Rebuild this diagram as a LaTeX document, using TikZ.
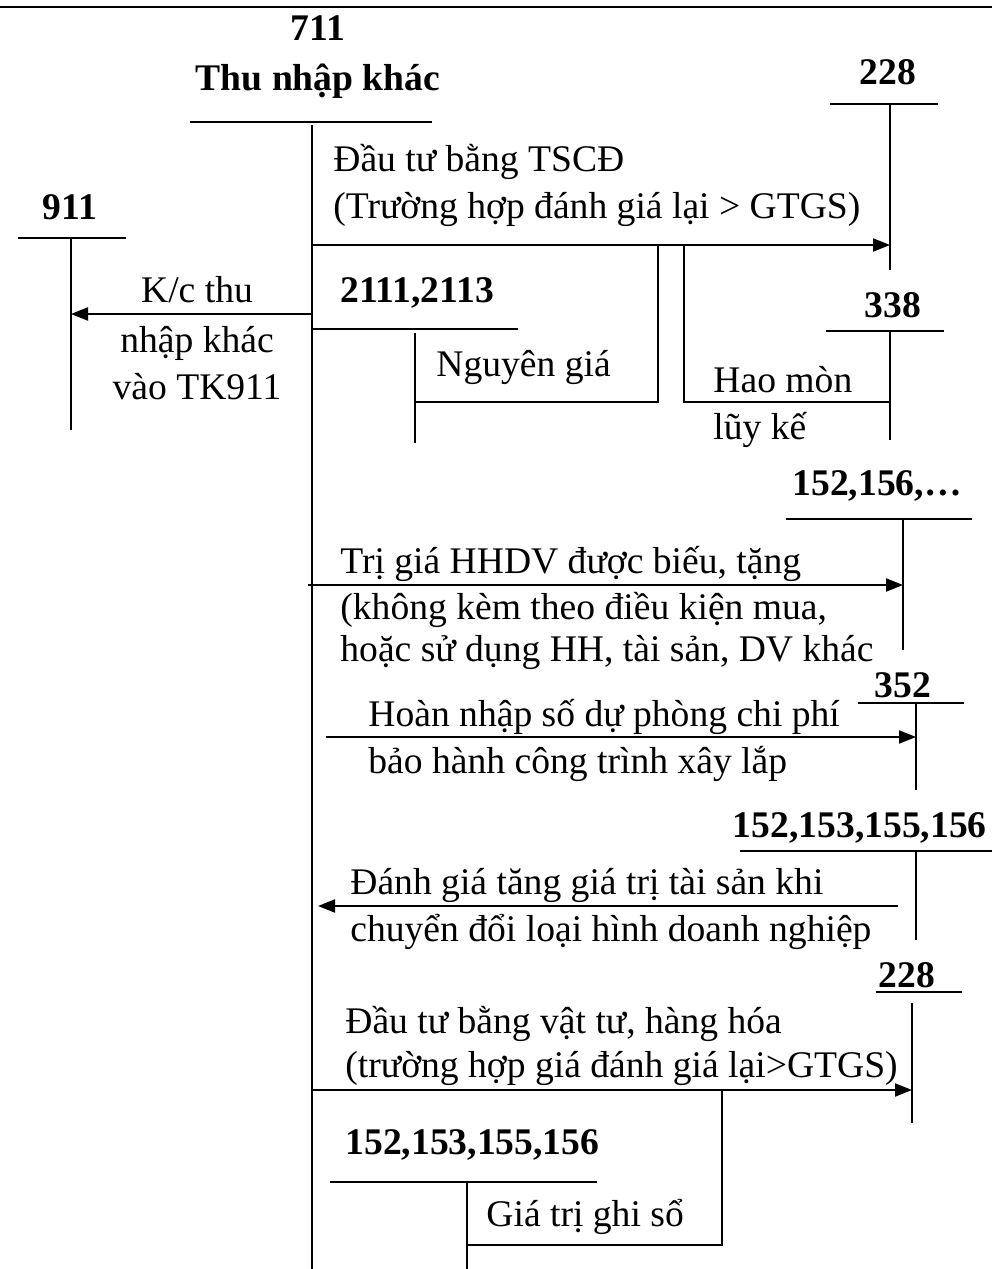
\documentclass[tikz,border=0pt]{standalone}
\usepackage{fontspec}
\setmainfont{Liberation Serif}
\usetikzlibrary{arrows.meta}
\begin{document}
\begin{tikzpicture}[x=0.5pt,y=-0.5pt,
  ln/.style={line width=1pt},
  hl/.style={line width=1.2pt},
  arr/.style={line width=1pt,-{Triangle[length=8.5pt,width=6.5pt]}},
  lbl/.style={inner sep=0pt,font=\fontsize{18.8}{23.5}\selectfont},
  bl/.style={inner sep=0pt,font=\fontsize{18.8}{23.5}\selectfont\bfseries}]
\useasboundingbox (0,0) rectangle (992,1269);
% top rule
\coordinate (topL) at (0,7); \coordinate (topR) at (992,7);
\draw[hl] (topL) -- (topR);
% 711
\node[bl,anchor=base] (n711) at (318,40) {711};
\node[bl,anchor=base] (n711b) at (318,90) {Thu nhập khác};
\coordinate (a711L) at (190,122); \coordinate (a711R) at (432,122);
\coordinate (a711T) at (312,125); \coordinate (a711B) at (312,1269);
\draw[hl] (a711L) -- (a711R);
\draw[ln] (a711T) -- (a711B);
% 228 top
\node[bl,anchor=base] (n228) at (888,84) {228};
\coordinate (c228L) at (830,104); \coordinate (c228R) at (938,104);
\coordinate (c228T) at (890,104); \coordinate (c228B) at (890,270);
\draw[hl] (c228L) -- (c228R);
\draw[ln] (c228T) -- (c228B);
\node[lbl,anchor=base west] (t1a) at (333,171) {Đầu tư bằng TSCĐ};
\node[lbl,anchor=base west] (t1b) at (333,218) {(Trường hợp đánh giá lại > GTGS)};
\coordinate (s1) at (312,245); \coordinate (e1) at (890,245);
\draw[arr] (s1) -- (e1);
\coordinate (b1a) at (658,245); \coordinate (b1b) at (658,402); \coordinate (b1c) at (415,402);
\draw[ln] (b1a) -- (b1b) -- (b1c);
\coordinate (b2a) at (684,245); \coordinate (b2b) at (684,402); \coordinate (b2c) at (890,402);
\draw[ln] (b2a) -- (b2b) -- (b2c);
% 911
\node[bl,anchor=base] (n911) at (70,219) {911};
\coordinate (c911L) at (18,238); \coordinate (c911R) at (126,238);
\coordinate (c911T) at (71,238); \coordinate (c911B) at (71,430);
\draw[hl] (c911L) -- (c911R);
\draw[ln] (c911T) -- (c911B);
\coordinate (s2) at (312,314); \coordinate (e2) at (71,314);
\draw[arr] (s2) -- (e2);
\node[lbl,anchor=base] (k1) at (197,302) {K/c thu};
\node[lbl,anchor=base] (k2) at (197,352) {nhập khác};
\node[lbl,anchor=base] (k3) at (197,399) {vào TK911};
% 2111,2113
\node[bl,anchor=base west] (n2111) at (340,302) {2111,2113};
\coordinate (c2111L) at (312,329); \coordinate (c2111R) at (518,329);
\coordinate (c2111T) at (415,333); \coordinate (c2111B) at (415,443);
\draw[ln] (c2111L) -- (c2111R);
\draw[ln] (c2111T) -- (c2111B);
\node[lbl,anchor=base west] (ng) at (436,376) {Nguyên giá};
% 338
\node[bl,anchor=base] (n338) at (893,317) {338};
\coordinate (c338L) at (826,331); \coordinate (c338R) at (944,331);
\coordinate (c338T) at (890,331); \coordinate (c338B) at (890,440);
\draw[hl] (c338L) -- (c338R);
\draw[ln] (c338T) -- (c338B);
\node[lbl,anchor=base west] (hm1) at (713,392) {Hao mòn};
\node[lbl,anchor=base west] (hm2) at (713,439) {lũy kế};
% 152,156,...
\node[bl,anchor=base east] (n152a) at (962,495) {152,156,…};
\coordinate (c152L) at (786,519); \coordinate (c152R) at (972,519);
\coordinate (c152T) at (903,519); \coordinate (c152B) at (903,650);
\draw[hl] (c152L) -- (c152R);
\draw[ln] (c152T) -- (c152B);
\coordinate (s3) at (308,585); \coordinate (e3) at (903,585);
\draw[arr] (s3) -- (e3);
\node[lbl,anchor=base west] (t3a) at (340,573) {Trị giá HHDV được biếu, tặng};
\node[lbl,anchor=base west] (t3b) at (340,619) {(không kèm theo điều kiện mua,};
\node[lbl,anchor=base west] (t3c) at (340,661) {hoặc sử dụng HH, tài sản, DV khác};
% 352
\node[bl,anchor=base] (n352) at (903,697) {352};
\coordinate (c352L) at (858,703); \coordinate (c352R) at (964,703);
\coordinate (c352T) at (916,703); \coordinate (c352B) at (916,790);
\draw[hl] (c352L) -- (c352R);
\draw[ln] (c352T) -- (c352B);
\coordinate (s4) at (326,737); \coordinate (e4) at (916,737);
\draw[arr] (s4) -- (e4);
\node[lbl,anchor=base west] (t4a) at (368,726) {Hoàn nhập số dự phòng chi phí};
\node[lbl,anchor=base west] (t4b) at (368,773) {bảo hành công trình xây lắp};
% 152,153,155,156 right
\node[bl,anchor=base east] (n152b) at (987,837) {152,153,155,156};
\coordinate (c152bL) at (740,851); \coordinate (c152bR) at (992,851);
\coordinate (c152bT) at (916,851); \coordinate (c152bB) at (916,940);
\draw[hl] (c152bL) -- (c152bR);
\draw[ln] (c152bT) -- (c152bB);
\coordinate (s5) at (898,906); \coordinate (e5) at (318,906);
\draw[arr] (s5) -- (e5);
\node[lbl,anchor=base west] (t5a) at (350,894) {Đánh giá tăng giá trị tài sản khi};
\node[lbl,anchor=base west] (t5b) at (350,941) {chuyển đổi loại hình doanh nghiệp};
% 228 lower
\node[bl,anchor=base] (n228b) at (907,987) {228};
\coordinate (c228bL) at (876,992); \coordinate (c228bR) at (962,992);
\coordinate (c228bT) at (912,1003); \coordinate (c228bB) at (912,1123);
\draw[hl] (c228bL) -- (c228bR);
\draw[ln] (c228bT) -- (c228bB);
\node[lbl,anchor=base west] (t6a) at (345,1033) {Đầu tư bằng vật tư, hàng hóa};
\node[lbl,anchor=base west] (t6b) at (345,1077) {(trường hợp giá đánh giá lại>GTGS)};
\coordinate (s6) at (312,1090); \coordinate (e6) at (912,1090);
\draw[arr] (s6) -- (e6);
\coordinate (b3a) at (722,1090); \coordinate (b3b) at (722,1245); \coordinate (b3c) at (467,1245);
\draw[ln] (b3a) -- (b3b) -- (b3c);
% 152,153,155,156 lower
\node[bl,anchor=base west] (n152c) at (345,1154) {152,153,155,156};
\coordinate (c152cL) at (330,1182); \coordinate (c152cR) at (597,1182);
\coordinate (c152cT) at (467,1183); \coordinate (c152cB) at (467,1269);
\draw[hl] (c152cL) -- (c152cR);
\draw[ln] (c152cT) -- (c152cB);
\node[lbl,anchor=base west] (gt) at (486,1226) {Giá trị ghi sổ};
\end{tikzpicture}
\end{document}
